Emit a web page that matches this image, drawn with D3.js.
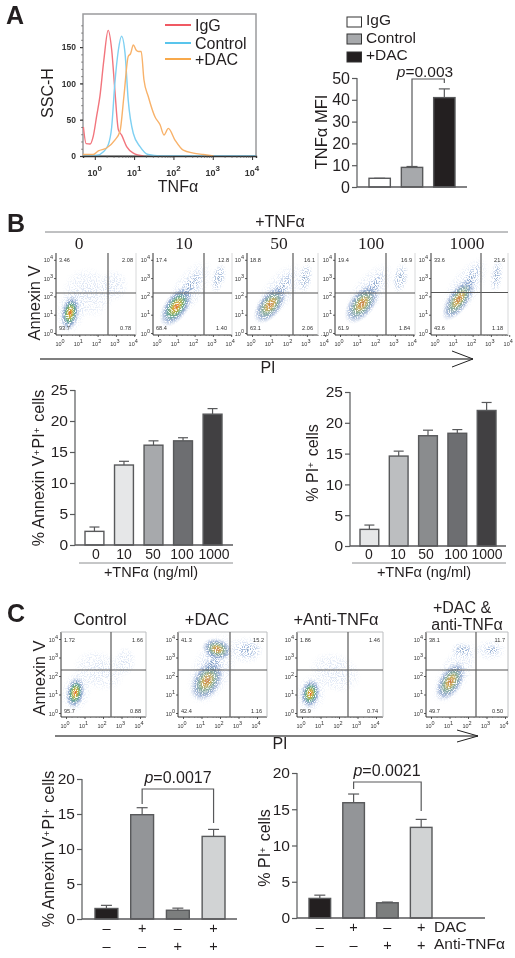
<!DOCTYPE html>
<html><head><meta charset="utf-8">
<script src="https://cdnjs.cloudflare.com/ajax/libs/d3/7.8.5/d3.min.js"></script>
<style>
html,body{margin:0;padding:0;background:#fff}
svg{display:block;filter:blur(0.35px)}
text{font-family:"Liberation Sans",Arial,sans-serif;fill:#231f20}
</style></head><body><svg id="c" width="515" height="958" viewBox="0 0 515 958"></svg>
<script>
// ---------- DATA ----------
const histIgG = [[-0.29,40],[-0.22,17],[-0.12,16.5],[-0.04,27],[0.05,56],[0.13,82],[0.23,132],[0.34,173],[0.43,146],[0.51,91],[0.60,36],[0.68,29],[0.81,13],[0.98,4],[1.24,0]];
const histControl = [[-0.3,0],[0.05,1],[0.22,6],[0.34,15],[0.43,40],[0.51,100],[0.60,146],[0.68,165],[0.77,141],[0.85,77],[0.98,31],[1.15,13],[1.36,2],[1.66,0],[4.1,0]];
const histDAC = [[-0.3,2],[-0.04,2],[0.09,7],[0.30,11],[0.51,22],[0.64,34],[0.74,82],[0.85,137],[0.91,141],[0.98,153],[1.05,146],[1.11,144],[1.18,144],[1.25,105],[1.36,82],[1.53,54],[1.66,43],[1.76,29],[1.87,38],[2.04,22],[2.25,8],[2.51,4],[2.76,2],[3.02,0]];
const histLegend = ["IgG","Control","+DAC"];

const mfiCats = ["IgG","Control","+DAC"];
const mfiVals = [4,9,41];
const mfiErr  = [4,9.4,45];

const tnfDoses = ["0","10","50","100","1000"];
const annexinVals = [2.2,12.9,16.1,16.8,21.1];
const annexinErr  = [2.9,13.5,16.8,17.3,22.0];
const piVals = [2.7,14.6,17.9,18.3,22.0];
const piErr  = [3.4,15.4,18.8,18.9,23.3];

const treatCats = ["ctrl","dac","anti","both"];
const dacSigns  = ["–","+","–","+"];
const antiSigns = ["–","–","+","+"];
const cAnnexinVals = [1.5,14.9,1.25,11.8];
const cAnnexinErr  = [1.95,15.9,1.55,12.8];
const cPiVals = [2.7,15.9,2.1,12.5];
const cPiErr  = [3.15,17.1,2.2,13.6];

// flow plots: quadrant percentages [UL, UR, LL, LR]
const flowBTitles = ["0","10","50","100","1000"];
const flowBQuads = [["3.46","2.08","93.7","0.78"],["17.4","12.8","68.4","1.40"],["18.8","16.1","63.1","2.06"],["19.4","16.9","61.9","1.84"],["33.6","21.6","43.6","1.18"]];
const flowCQuads = [["1.72","1.66","95.7","0.88"],["41.3","15.2","42.4","1.16"],["1.86","1.46","95.9","0.74"],["38.1","11.7","49.7","0.50"]];
// density clusters: [log x, log y, radius x, radius y, tilt, level] in decades / degrees
const flowBClusters = [
 [[1.5,2.2,1.5,1.4,30,0],[2.9,2.6,.8,.9,0,0],[0.55,1.2,.85,1.35,10,0],[0.5,1.1,.52,1.0,10,2]],
 [[1.7,2.4,.9,1.9,35,0],[1.0,1.45,.68,1.3,35,2],[1.8,2.6,.45,1.1,35,1],[3.3,3.0,.42,.9,15,1]],
 [[1.5,2.3,.9,1.9,38,0],[1.0,1.55,.66,1.25,38,3],[1.7,2.6,.38,.95,35,1],[2.9,3.0,.42,.9,10,1]],
 [[1.6,2.3,.9,1.9,38,0],[1.2,1.6,.7,1.3,38,3],[1.9,2.6,.4,.95,35,1],[3.3,3.0,.45,.9,10,1]],
 [[1.6,2.5,.9,2.0,35,0],[1.25,1.85,.6,1.4,35,3],[1.95,3.0,.4,1.05,25,1],[3.3,3.1,.38,.95,8,1]]
];
const flowCTitles = [["Control"],["+DAC"],["+Anti-TNFα"],["+DAC &","anti-TNFα"]];
const flowCClusters = [
 [[1.8,2.3,1.5,1.1,20,0],[3.2,2.8,.6,.8,0,0],[0.55,1.15,.85,1.2,10,0],[0.5,1.1,.52,.9,10,2]],
 [[1.6,2.4,1.2,2.2,25,0],[3.4,3.4,1.0,.8,0,0],[1.3,1.75,.8,1.25,30,3],[1.6,2.7,.6,1.0,20,1],[3.5,3.4,.8,.5,0,1],[1.85,3.45,.85,.6,15,3]],
 [[1.8,2.2,1.5,1.1,20,0],[0.5,1.05,.85,1.1,10,0],[0.45,1.05,.55,.82,10,2]],
 [[1.3,2.2,.9,2.0,30,0],[3.2,3.4,.9,.6,0,0],[1.05,1.7,.65,1.2,32,3],[1.7,3.4,.65,.45,10,1],[3.3,3.4,.45,.3,0,1]]
];

// ---------- LAYOUT ----------
const svg = d3.select("#c");
const ink="#231f20", axisGrey="#58595b";
const defs = svg.append("defs");
const grad=(id,stops)=>{const g=defs.append("radialGradient").attr("id",id);
  stops.forEach(s=>g.append("stop").attr("offset",s[0]).attr("stop-color",s[1]).attr("stop-opacity",s[2]));};
grad("lv2",[[0,"#d9552c",1],[.16,"#e0a83a",1],[.32,"#9db04f",.95],[.48,"#4f9a80",.85],[.68,"#5b7fb8",.6],[1,"#b0c4e6",0]]);
grad("lv3",[[0,"#c9723e",.95],[.25,"#c8ab52",.9],[.45,"#6f9c84",.8],[.7,"#5f80b8",.55],[1,"#b0c4e6",0]]);
grad("lv1",[[0,"#6c8eb8",.75],[.5,"#7b9bcc",.5],[1,"#c0d0ea",0]]);
grad("lv0",[[0,"#9db4de",.42],[.7,"#b5c8e8",.28],[1,"#d0dcf0",0]]);
function speck(id,vals){
  const sp=defs.append("filter").attr("id",id).attr("x","0").attr("y","0").attr("width","1").attr("height","1").attr("color-interpolation-filters","sRGB");
  sp.append("feTurbulence").attr("type","fractalNoise").attr("baseFrequency",0.85).attr("numOctaves",1).attr("seed",4).attr("result","n");
  sp.append("feColorMatrix").attr("in","n").attr("type","matrix").attr("values",`0 0 0 0 0 0 0 0 0 0 0 0 0 0 0 ${vals}`).attr("result","m");
  sp.append("feComposite").attr("in","SourceGraphic").attr("in2","m").attr("operator","in");
}
speck("speckStrong","9 0 0 0 -4.4");
speck("speckSoft","5 0 0 0 -1.6");

function rich(t,str){ // ^+ superscript, *p* italic
  str.split(/(\^\+|\*p\*)/).filter(s=>s!=="").forEach(s=>{
    if(s==="^+"){t.append("tspan").attr("dy","-0.38em").attr("font-size","0.62em").text("+");
      t.append("tspan").attr("dy","0.236em").text("\u200a");}
    else if(s==="*p*"){t.append("tspan").attr("font-style","italic").text("p");}
    else t.append("tspan").text(s);
  });
  return t;
}
function label(x,y,str,size,anchor="middle",rot=0){
  const t=svg.append("text").attr("font-size",size).attr("text-anchor",anchor)
    .attr("transform",`translate(${x},${y})`+(rot?` rotate(${rot})`:""));
  return rich(t,str);
}
function seg(x1,y1,x2,y2,c=axisGrey,w=1.2){svg.append("path").attr("d",d3.line()([[x1,y1],[x2,y2]])).attr("stroke",c).attr("stroke-width",w).attr("fill","none");}
function poly(pts,c=axisGrey,w=1.2){svg.append("path").attr("d",d3.line()(pts)).attr("stroke",c).attr("stroke-width",w).attr("fill","none");}

// panel letters
[["A",6,24],["B",7,232],["C",7,622]].forEach(d=>label(d[1],d[2],d[0],25,"start").attr("font-weight","bold"));

// ---------- A: histogram ----------
(function(){
  const x=d3.scaleLinear().domain([-0.3,4.1]).range([83,256]);
  const y=d3.scaleLinear().domain([0,50]).range([156,119.7]);
  const g=svg.append("g");
  g.append("rect").attr("x",83).attr("y",14).attr("width",173).attr("height",142).attr("fill","none").attr("stroke","#9a9b9d").attr("stroke-width",1.5);
  const line=d3.line().x(d=>x(d[0])).y(d=>y(d[1])).curve(d3.curveMonotoneX);
  [[histIgG,"#f2757d"],[histControl,"#7fd0f2"],[histDAC,"#f8b26a"]].forEach(s=>
    g.append("path").attr("d",line(s[0])).attr("fill","none").attr("stroke",s[1]).attr("stroke-width",1.4));
  const ya=g.append("g").attr("transform","translate(83,0)").call(d3.axisLeft(y).tickValues([0,50,100,150]).tickSize(3).tickPadding(4).tickFormat(d3.format("d")));
  ya.select(".domain").remove(); ya.selectAll("line").attr("stroke","#333").attr("stroke-width",1.2);
  ya.selectAll("text").attr("font-size",8.5).attr("font-weight","bold").style("fill","#333");
  const ym=g.append("g").attr("transform","translate(83,0)").call(d3.axisLeft(y).tickValues(d3.range(10,190,10)).tickSize(2).tickFormat(""));
  ym.select(".domain").remove(); ym.selectAll("line").attr("stroke","#555").attr("stroke-width",.6);
  const xvals=d3.range(0,5);
  const minor=[];xvals.slice(0,4).forEach(d=>[2,3,4,5,6,7,8,9].forEach(m=>minor.push(d+Math.log10(m))));
  const xm=g.append("g").attr("transform","translate(0,156)").call(d3.axisBottom(x).tickValues(minor).tickSize(2).tickFormat(""));
  xm.select(".domain").attr("stroke","#333").attr("stroke-width",1.4); xm.selectAll("line").attr("stroke","#555").attr("stroke-width",.6);
  const xa=g.append("g").attr("transform","translate(0,156)").call(d3.axisBottom(x).tickValues(xvals).tickSize(4).tickFormat(""));
  xa.select(".domain").remove(); xa.selectAll("line").attr("stroke","#333").attr("stroke-width",1);
  xvals.forEach(d=>{
    const t=g.append("text").attr("x",x(d)).attr("y",176).attr("text-anchor","middle").attr("font-size",9).attr("font-weight","bold").style("fill","#333").text("10");
    t.append("tspan").attr("dy",-5).attr("font-size",8).text(d);
  });
  label(53,93,"SSC-H",16,"middle",-90);
  label(178,192,"TNFα",16);
  const lc=["#ed2f3c","#2fb6e8","#f7941d"], ly=[25,43,59], ty=[31,48.5,65];
  histLegend.forEach((n,i)=>{seg(165,ly[i],191,ly[i],lc[i],1.6);label(195,ty[i],n,16,"start");});
})();

// ---------- bar helper ----------
function bars(o){
  const g=svg.append("g");
  const x=d3.scaleBand().domain(o.cats).range(o.xr).paddingInner(o.pad);
  const y=d3.scaleLinear().domain([0,o.max]).range(o.yr);
  const a=g.append("g").attr("transform",`translate(${o.ax},0)`).call(d3.axisLeft(y).tickValues(d3.range(0,o.max+1,o.step)).tickSize(5).tickPadding(2).tickFormat(d3.format("d")));
  a.select(".domain").attr("stroke",axisGrey).attr("stroke-width",1.2).attr("d",`M0,${o.yr[0]}V${o.yr[1]}`);
  a.selectAll("line").attr("stroke",axisGrey).attr("stroke-width",1.2);
  a.selectAll("text").attr("font-size",o.tick).style("fill",ink);
  const w=x.bandwidth();
  o.cats.forEach((c,i)=>{
    const cx=x(c)+w/2;
    g.append("path").attr("d",d3.line()([[cx,y(o.vals[i])],[cx,y(o.err[i])]])).attr("stroke",axisGrey).attr("stroke-width",1.2);
    g.append("path").attr("d",d3.line()([[cx-o.cap,y(o.err[i])],[cx+o.cap,y(o.err[i])]])).attr("stroke",axisGrey).attr("stroke-width",1.2);
    g.append("rect").attr("x",x(c)).attr("y",y(o.vals[i])).attr("width",w).attr("height",y(0)-y(o.vals[i]))
      .attr("fill",o.fills[i]).attr("stroke",axisGrey).attr("stroke-width",1.4);
  });
  seg(o.ax,o.yr[0],o.xEnd,o.yr[0],axisGrey,1.3);
  return {x,y,centre:c=>x(c)+w/2};
}

// ---------- A: MFI bars ----------
(function(){
  const b=bars({cats:mfiCats,vals:mfiVals,err:mfiErr,fills:["#fff","#a7a9ac","#231f20"],xr:[369,455],pad:.34,yr:[187,78],max:50,step:10,ax:357,xEnd:467,tick:16,cap:5.5});
  label(327,132,"TNFα MFI",16.5,"middle",-90);
  const lf=["#fff","#a7a9ac","#231f20"], ry=[17,34,52], ty=[25,42.5,60];
  mfiCats.forEach((n,i)=>{
    svg.append("rect").attr("x",347).attr("y",ry[i]).attr("width",14.5).attr("height",10).attr("fill",lf[i]).attr("stroke","#333").attr("stroke-width",1);
    label(366,ty[i],n,15.5,"start");
  });
  label(425,77.3,"*p*=0.003",15.5);
  poly([[b.centre("Control"),166],[b.centre("Control"),79],[b.centre("+DAC"),79],[b.centre("+DAC"),83]]);
})();

// ---------- flow helper ----------
function flow(o){
  const g=svg.append("g");
  const id="clip"+o.id;
  defs.append("clipPath").attr("id",id).append("rect").attr("x",o.ax).attr("y",o.top).attr("width",o.right-o.ax).attr("height",o.bottom-o.top);
  const x=d3.scaleLinear().domain([0,4]).range([o.ax+5,o.ax+5+o.dec*4]);
  const y=d3.scaleLinear().domain([0,4]).range([o.y0,o.y0-o.dec*4]);
  const cg=g.append("g").attr("clip-path",`url(#${id})`);
  o.clusters.forEach(c=>{
    const cx=x(c[0]),cy=y(c[1]);
    cg.append("g").attr("filter",c[5]<2?"url(#speckStrong)":"url(#speckSoft)")
      .append("ellipse").attr("cx",cx).attr("cy",cy).attr("rx",c[2]*o.dec).attr("ry",c[3]*o.dec)
      .attr("transform",`rotate(${c[4]} ${cx} ${cy})`).attr("fill",`url(#lv${c[5]})`);
  });
  if(o.frame){poly([[o.ax,o.top],[o.right,o.top],[o.right,o.bottom]],"#bcbec0",1);}
  else poly([[o.right,o.top],[o.right,o.bottom]],"#d8d9da",1);
  seg(o.ax,o.gy,o.right,o.gy,"#555",1.2);
  seg(o.gx,o.top,o.gx,o.bottom,"#666",1.3);
  const ticks=[0,1,2,3,4];
  const minor=[];ticks.slice(0,4).forEach(d=>[2,4,6,8].forEach(m=>minor.push(d+Math.log10(m))));
  const ya=g.append("g").attr("transform",`translate(${o.ax},0)`).call(d3.axisLeft(y).tickValues(ticks).tickSize(2).tickFormat(""));
  ya.select(".domain").attr("stroke","#333").attr("stroke-width",1).attr("d",`M0,${o.bottom}V${o.top}`);
  ya.selectAll("line").attr("stroke","#333").attr("stroke-width",.8);
  const xa=g.append("g").attr("transform",`translate(0,${o.bottom})`).call(d3.axisBottom(x).tickValues(ticks).tickSize(2).tickFormat(""));
  xa.select(".domain").attr("stroke","#333").attr("stroke-width",1).attr("d",`M${o.ax},0H${o.right}`);
  xa.selectAll("line").attr("stroke","#333").attr("stroke-width",.8);
  const xm=g.append("g").attr("transform",`translate(0,${o.bottom})`).call(d3.axisBottom(x).tickValues(minor).tickSize(1).tickFormat(""));
  xm.select(".domain").remove(); xm.selectAll("line").attr("stroke","#555").attr("stroke-width",.5);
  ticks.forEach(d=>{
    const t=g.append("text").attr("x",o.ax-3).attr("y",y(d)+2.5).attr("text-anchor","end").attr("font-size",5.5).style("fill","#333").text("10");
    t.append("tspan").attr("dy",-3).attr("font-size",5.5).text(d);
    const u=g.append("text").attr("x",x(d)-1).attr("y",o.bottom+11).attr("text-anchor","middle").attr("font-size",5.5).style("fill","#333").text("10");
    u.append("tspan").attr("dy",-3).attr("font-size",5.5).text(d);
  });
  const q=o.quads, fs=5.6;
  [[o.ax+3,o.top+o.qTop,"start",q[0]],[o.right-3,o.top+o.qTop,"end",q[1]],[o.ax+3,o.bottom-o.qBot,"start",q[2]],[o.right-5,o.bottom-o.qBot,"end",q[3]]].forEach(d=>
    g.append("text").attr("x",d[0]).attr("y",d[1]).attr("text-anchor",d[2]).attr("font-size",fs).style("fill","#333").text(d[3]));
}

// ---------- B: flow row ----------
label(280,227,"+TNFα",16);
seg(45,232,508,232,"#808285",1);
const flowBGeom=[[56,136,108],[153,232,204],[247,318,293],[335,415,386],[431,508,481]];
const flowBTitleX=[79,184,279,371,467];
flowBGeom.forEach((p,i)=>{
  svg.append("text").attr("x",flowBTitleX[i]).attr("y",249).attr("text-anchor","middle").attr("font-size",17.5).style("font-family","'Liberation Serif'").text(flowBTitles[i]);
  flow({id:"b"+i,ax:p[0],right:p[1],gx:p[2],gy:i==4?292.5:293,top:253,bottom:335,y0:333,dec:18.3,quads:flowBQuads[i],clusters:flowBClusters[i],qTop:9,qBot:5,frame:false});
});
label(40,303,"Annexin V",16.5,"middle",-90);
seg(40,359,473,359,"#555",1.5);
poly([[452,351],[473,359],[452,367]],"#222",1);
label(268,373,"PI",16);

// ---------- B: bars ----------
(function(){
  bars({cats:tnfDoses,vals:annexinVals,err:annexinErr,fills:["#fff","#e6e7e8","#a7a9ac","#6d6e71","#414042"],xr:[85,222],pad:.36,yr:[545,390],max:25,step:5,ax:75,xEnd:233,tick:15.5,cap:5});
  bars({cats:tnfDoses,vals:piVals,err:piErr,fills:["#e6e7e8","#bcbec0","#8a8c8e","#6d6e71","#414042"],xr:[360,496],pad:.36,yr:[546,392],max:25,step:5,ax:350,xEnd:506,tick:15.5,cap:5});
  const lx=[96,124,153,182,214], rx=[369,398,426,456,487];
  tnfDoses.forEach((d,i)=>{label(lx[i],559,d,14);label(rx[i],559,d,14);});
  seg(79,563,233,563,"#808285",.9); seg(352,563,506,563,"#808285",.9);
  label(151,577,"+TNFα (ng/ml)",14.5); label(424,577,"+TNFα (ng/ml)",14.5);
  label(44,468,"% Annexin V^+PI^+ cells",16,"middle",-90);
  label(318,463,"% PI^+ cells",16,"middle",-90);
})();

// ---------- C: flow row ----------
const flowCGeom=[[61,146,111,670],[178,267,230,670],[297,383,348,670],[426,508,476,670]];
const flowCTitleX=[100,207,336,465];
flowCTitles.forEach((t,i)=>{
  if(t.length==1) label(flowCTitleX[i],625,t[0],16.5);
  else {label(462,613,t[0],16);label(467,630,t[1],16);}
});
flowCGeom.forEach((p,i)=>flow({id:"c"+i,ax:p[0],right:p[1],gx:p[2],gy:p[3],top:632,bottom:717,y0:713,dec:18.5,quads:flowCQuads[i],clusters:flowCClusters[i],qTop:10,qBot:4,frame:true}));
label(45,678,"Annexin V",16.5,"middle",-90);
seg(55,736,478,736,"#555",1.5);
poly([[457,730],[478,736],[457,742]],"#222",1);
label(280,749,"PI",16);

// ---------- C: bars ----------
(function(){
  const fills=["#231f20","#939598","#7c7e7e","#d1d3d4"];
  const L=bars({cats:treatCats,vals:cAnnexinVals,err:cAnnexinErr,fills,xr:[95,225],pad:.36,yr:[919,779],max:20,step:5,ax:82,xEnd:237,tick:15.5,cap:5.5});
  const R=bars({cats:treatCats,vals:cPiVals,err:cPiErr,fills,xr:[309,432],pad:.36,yr:[918,773],max:20,step:5,ax:297,xEnd:485,tick:15.5,cap:5.5});
  poly([[L.centre("dac"),804],[L.centre("dac"),789],[L.centre("both"),789],[L.centre("both"),823]]);
  poly([[R.centre("dac"),789],[R.centre("dac"),782],[R.centre("both"),782],[R.centre("both"),811]]);
  label(178,783,"*p*=0.0017",16); label(387,776,"*p*=0.0021",16);
  treatCats.forEach((c,i)=>{
    label(L.centre(c),933,dacSigns[i],14.5); label(L.centre(c),951,antiSigns[i],14.5);
    label(R.centre(c),932,dacSigns[i],14.5); label(R.centre(c),949.5,antiSigns[i],14.5);
  });
  label(434,932,"DAC",15.5,"start"); label(434,949,"Anti-TNFα",15.5,"start");
  label(54,849,"% Annexin V^+PI^+ cells",16,"middle",-90);
  label(270,848,"% PI^+ cells",16,"middle",-90);
})();
</script></body></html>
